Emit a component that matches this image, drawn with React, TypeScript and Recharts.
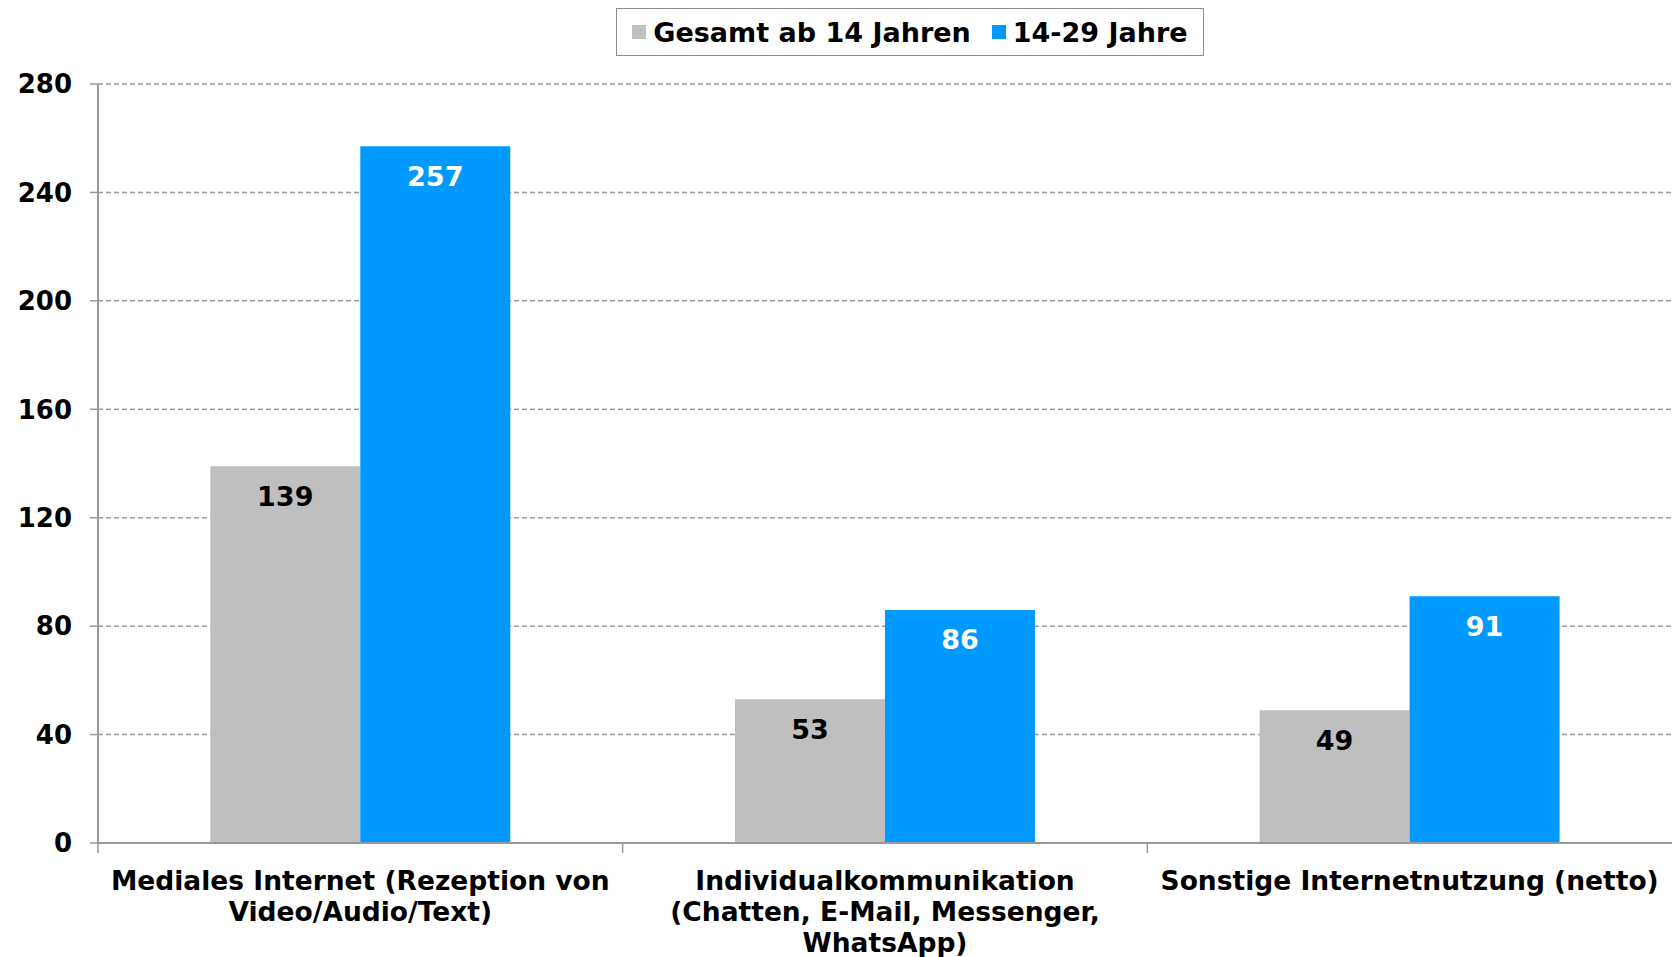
import React from 'react';
import { BarChart, Bar, XAxis, YAxis, CartesianGrid, LabelList } from 'recharts';

// category names, '|' marks the line breaks of the axis labels
const CATEGORIES = [
  'Mediales Internet (Rezeption von|Video/Audio/Text)',
  'Individualkommunikation|(Chatten, E-Mail, Messenger,|WhatsApp)',
  'Sonstige Internetnutzung (netto)',
];
const GESAMT = [139, 53, 49];
const JUNG = [257, 86, 91];
const Y_TICKS = [0, 40, 80, 120, 160, 200, 240, 280];

const SERIES = [
  { key: 'gesamt', name: 'Gesamt ab 14 Jahren', color: '#BFBFBF', labelColor: '#000000' },
  { key: 'jung', name: '14-29 Jahre', color: '#0099FF', labelColor: '#FFFFFF' },
];

const data = CATEGORIES.map((name, i) => ({
  name,
  gesamt: GESAMT[i],
  jung: JUNG[i],
}));

const WIDTH = 1672;
const HEIGHT = 957;
const Y_AXIS_W = 98;
const X_AXIS_H = 30;
const BAND = (WIDTH - Y_AXIS_W) / CATEGORIES.length;
const FONT = "'DejaVu Sans', Verdana, sans-serif";

const CategoryTick = (props: any) => {
  const { x, y, payload } = props;
  const lines = String(payload.value).split('|');
  return (
    <g>
      <line x1={x - BAND / 2} x2={x - BAND / 2} y1={y} y2={y + 10} stroke="#999" strokeWidth={1.5} />
      {lines.map((line, i) => (
        <text
          key={i}
          x={x}
          y={y + 37 + i * 31}
          textAnchor="middle"
          dominantBaseline="central"
          fontFamily={FONT}
          fontWeight="bold"
          fontSize={26.5}
          fill="#000"
        >
          {line}
        </text>
      ))}
    </g>
  );
};

const makeLabel = (color: string) => (props: any) => {
  const { x, y, width, value } = props;
  return (
    <text
      x={x + width / 2}
      y={y + 30}
      textAnchor="middle"
      dominantBaseline="central"
      fontFamily={FONT}
      fontWeight="bold"
      fontSize={27}
      fill={color}
    >
      {value}
    </text>
  );
};

const App: React.FC = () => {
  return (
    <div style={{ position: 'absolute', left: 0, top: 0, width: WIDTH, height: HEIGHT, background: '#fff' }}>
      <div
        style={{
          position: 'absolute',
          left: 616,
          top: 8,
          width: 588,
          height: 48,
          boxSizing: 'border-box',
          border: '1.5px solid #8c8c8c',
          display: 'flex',
          alignItems: 'center',
          justifyContent: 'center',
          gap: 21,
          fontFamily: FONT,
          fontWeight: 'bold',
          fontSize: 27,
          color: '#000',
          zIndex: 2,
        }}
      >
        {SERIES.map((s) => (
          <div key={s.key} style={{ display: 'flex', alignItems: 'center' }}>
            <span style={{ width: 14, height: 14, background: s.color, marginRight: 7, display: 'inline-block' }} />
            <span>{s.name}</span>
          </div>
        ))}
      </div>
      <BarChart
        width={WIDTH}
        height={HEIGHT}
        data={data}
        margin={{ top: 84, right: 0, bottom: 114 - X_AXIS_H, left: 0 }}
        barCategoryGap="21.4%"
        barGap={0}
      >
        <CartesianGrid vertical={false} stroke="#999" strokeDasharray="5 3" strokeWidth={1.5} />
        <XAxis
          dataKey="name"
          height={X_AXIS_H}
          interval={0}
          tickSize={0}
          tickMargin={0}
          tickLine={false}
          axisLine={{ stroke: '#999', strokeWidth: 2 }}
          tick={<CategoryTick />}
        />
        <YAxis
          width={Y_AXIS_W}
          domain={[0, 280]}
          ticks={Y_TICKS}
          interval={0}
          tickSize={8}
          tickMargin={18}
          tickLine={{ stroke: '#999', strokeWidth: 1.5 }}
          axisLine={{ stroke: '#999', strokeWidth: 2 }}
          tick={{ fontFamily: FONT, fontWeight: 'bold', fontSize: 26, fill: '#000' }}
        />
        {SERIES.map((s) => (
          <Bar key={s.key} dataKey={s.key} name={s.name} fill={s.color} isAnimationActive={false}>
            <LabelList dataKey={s.key} content={makeLabel(s.labelColor)} />
          </Bar>
        ))}
      </BarChart>
    </div>
  );
};

export default App;
